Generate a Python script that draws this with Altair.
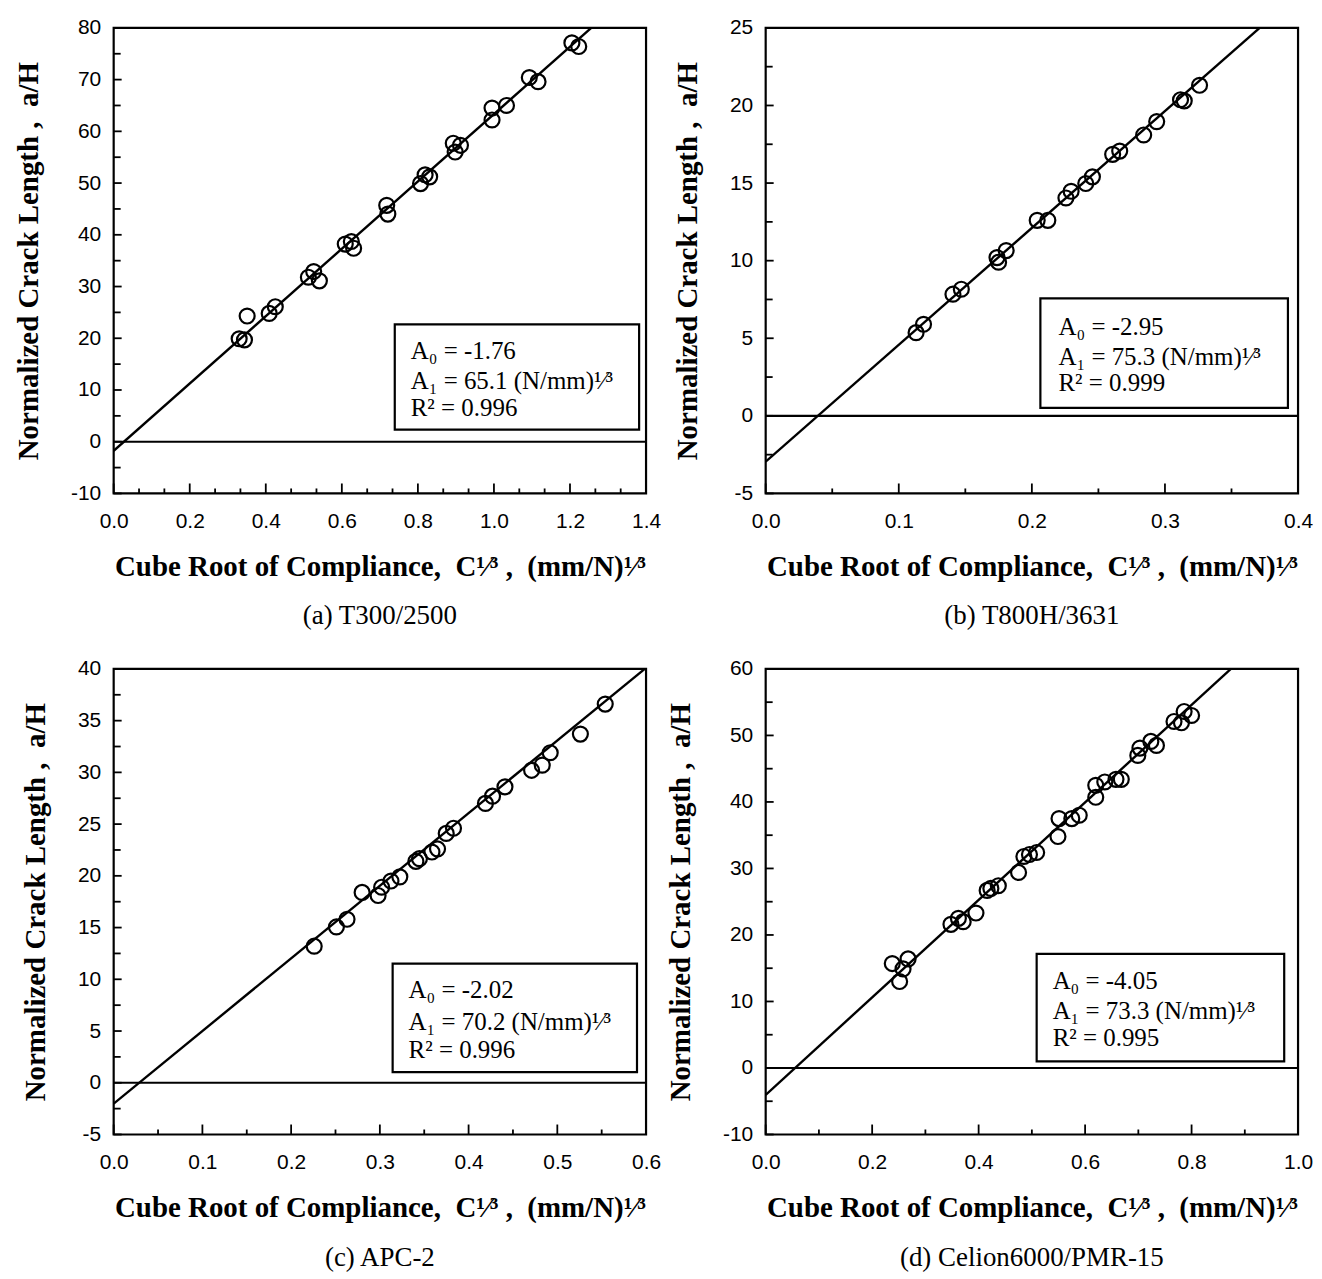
import altair as alt
import pandas as pd

# ---------------- data ----------------
# (a) T300/2500
xa = [0.330, 0.344, 0.351, 0.409, 0.425, 0.512, 0.526, 0.541, 0.609, 0.625, 0.631,
      0.718, 0.721, 0.807, 0.819, 0.831, 0.893, 0.912, 0.898, 0.995, 1.033, 0.995,
      1.093, 1.116, 1.205, 1.223]
ya = [19.9, 19.7, 24.3, 24.8, 26.1, 31.8, 32.9, 31.1, 38.2, 38.7, 37.4,
      45.7, 44.0, 49.9, 51.6, 51.2, 57.7, 57.3, 56.0, 64.5, 65.0, 62.2,
      70.4, 69.6, 77.1, 76.4]
# (b) T800H/3631
xb = [0.113, 0.1186, 0.1407, 0.147, 0.1738, 0.1807, 0.175, 0.204, 0.212, 0.2256,
      0.2295, 0.2405, 0.2455, 0.2607, 0.266, 0.284, 0.2938, 0.3117, 0.3145, 0.326]
yb = [5.36, 5.9, 7.84, 8.16, 10.2, 10.65, 9.9, 12.6, 12.6, 14.04,
      14.47, 14.97, 15.4, 16.85, 17.06, 18.1, 18.96, 20.37, 20.3, 21.3]
# (c) APC-2
xc = [0.226, 0.251, 0.263, 0.280, 0.298, 0.302, 0.3125, 0.3225, 0.3406, 0.3446, 0.3587,
      0.365, 0.3748, 0.383, 0.419, 0.427, 0.441, 0.471, 0.483, 0.492, 0.526, 0.554]
yc = [13.2, 15.06, 15.8, 18.4, 18.1, 18.9, 19.5, 19.9, 21.4, 21.66, 22.3,
      22.6, 24.1, 24.6, 27.0, 27.7, 28.6, 30.2, 30.7, 31.9, 33.7, 36.6]
# (d) Celion6000/PMR-15
xd = [0.2378, 0.2516, 0.258, 0.2675, 0.348, 0.362, 0.371, 0.395, 0.416, 0.423, 0.437,
      0.475, 0.485, 0.4955, 0.509, 0.549, 0.551, 0.575, 0.589, 0.62, 0.62, 0.637,
      0.658, 0.668, 0.699, 0.703, 0.7235, 0.734, 0.767, 0.781, 0.786, 0.80]
yd = [15.7, 13.0, 14.9, 16.4, 21.6, 22.5, 22.0, 23.3, 26.7, 27.0, 27.4,
      29.4, 31.8, 32.1, 32.4, 34.8, 37.5, 37.5, 38.0, 40.7, 42.5, 43.0,
      43.4, 43.4, 47.0, 48.1, 49.1, 48.5, 52.1, 51.9, 53.6, 53.0]

# regression constants printed in each panel
fit_a0 = [-1.76, -2.95, -2.02, -4.05]
fit_a1 = [65.1, 75.3, 70.2, 73.3]
fit_r2 = ["0.996", "0.999", "0.996", "0.995"]
fit_a0_txt = ["-1.76", "-2.95", "-2.02", "-4.05"]
fit_a1_txt = ["65.1", "75.3", "70.2", "73.3"]

subtitles = ["(a) T300/2500", "(b) T800H/3631", "(c) APC-2", "(d) Celion6000/PMR-15"]

# axis domains and ticks
x_domains = [[0, 1.4], [0, 0.4], [0, 0.6], [0, 1.0]]
y_domains = [[-10, 80], [-5, 25], [-5, 40], [-10, 60]]
x_major = [[0, 0.2, 0.4, 0.6, 0.8, 1.0, 1.2, 1.4],
           [0, 0.1, 0.2, 0.3, 0.4],
           [0, 0.1, 0.2, 0.3, 0.4, 0.5, 0.6],
           [0, 0.2, 0.4, 0.6, 0.8, 1.0]]
x_minor = [[0.0667, 0.1333, 0.2667, 0.3333, 0.4667, 0.5333, 0.6667, 0.7333,
            0.8667, 0.9333, 1.0667, 1.1333, 1.2667, 1.3333],
           [0.05, 0.15, 0.25, 0.35],
           [0.05, 0.15, 0.25, 0.35, 0.45, 0.55],
           [0.1, 0.3, 0.5, 0.7, 0.9]]
y_major = [[-10, 0, 10, 20, 30, 40, 50, 60, 70, 80],
           [-5, 0, 5, 10, 15, 20, 25],
           [-5, 0, 5, 10, 15, 20, 25, 30, 35, 40],
           [-10, 0, 10, 20, 30, 40, 50, 60]]
y_minor = [[-5, 5, 15, 25, 35, 45, 55, 65, 75],
           [-2.5, 2.5, 7.5, 12.5, 17.5, 22.5],
           [-2.5, 2.5, 7.5, 12.5, 17.5, 22.5, 27.5, 32.5, 37.5],
           [-5, 5, 15, 25, 35, 45, 55]]

# ---------------- layout / style (not data) ----------------
W, H = 534, 467
# box fractions of plot area: x0, x1, y0, y1, text x, three line centres
boxes = [
    (0.528, 0.987, 0.637, 0.863, 0.558, (0.694, 0.759, 0.817)),
    (0.516, 0.981, 0.581, 0.816, 0.550, (0.643, 0.708, 0.762)),
    (0.524, 0.983, 0.633, 0.866, 0.554, (0.689, 0.758, 0.819)),
    (0.509, 0.974, 0.612, 0.843, 0.539, (0.670, 0.734, 0.792)),
]
SERIF = "Liberation Serif"
SANS = "Liberation Sans"
XTITLE = "Cube Root of Compliance,\u00a0 C\u00b9\u2044\u00b3 ,\u00a0 (mm/N)\u00b9\u2044\u00b3"
YTITLE = "Normalized Crack Length ,\u00a0 a/H"


def panel(i, xs, ys, sub_offset):
    xsc = alt.Scale(domain=x_domains[i], nice=False, zero=False)
    ysc = alt.Scale(domain=y_domains[i], nice=False, zero=False)
    xax = alt.Axis(values=x_major[i], format=".1f", title=XTITLE,
                   labelPadding=17, titlePadding=21, labelFlush=False,
                   labelOverlap=False, labelBound=False)
    yax = alt.Axis(values=y_major[i], title=YTITLE, labelPadding=13,
                   titlePadding=27, labelOverlap=False,
                   labelExpr="datum.value < 0 ? '-' + format(-datum.value, 'd') : format(datum.value, 'd')")
    X = alt.X("x:Q", scale=xsc, axis=xax)
    Y = alt.Y("y:Q", scale=ysc, axis=yax)

    pts = pd.DataFrame({"x": xs, "y": ys})
    a0, a1 = fit_a0[i], fit_a1[i]
    xe = min(x_domains[i][1], (y_domains[i][1] - a0) / a1)
    xl = [x_domains[i][0], xe]
    fitdf = pd.DataFrame({"x": xl, "y": [a0 + a1 * v for v in xl]})

    zero = alt.Chart(pd.DataFrame({"y": [0]})).mark_rule(
        color="black", strokeWidth=2.2).encode(y=Y)
    fit = alt.Chart(fitdf).mark_line(color="black", strokeWidth=2.4, clip=True).encode(x=X, y=Y)
    circ = alt.Chart(pts).mark_point(shape="circle", filled=False, color="black",
                                     size=225, strokeWidth=2.2, opacity=1).encode(x=X, y=Y)
    xt_major = alt.Chart(pd.DataFrame({"x": x_major[i]})).mark_rule(
        color="black", strokeWidth=1.8).encode(x=X, y=alt.value(H), y2=alt.value(H - 10))
    xt_minor = alt.Chart(pd.DataFrame({"x": x_minor[i]})).mark_rule(
        color="black", strokeWidth=1.8).encode(x=X, y=alt.value(H), y2=alt.value(H - 5))
    yt_major = alt.Chart(pd.DataFrame({"y": y_major[i]})).mark_rule(
        color="black", strokeWidth=1.8).encode(y=Y, x=alt.value(0), x2=alt.value(8))
    yt_minor = alt.Chart(pd.DataFrame({"y": y_minor[i]})).mark_rule(
        color="black", strokeWidth=1.8).encode(y=Y, x=alt.value(0), x2=alt.value(7))

    bx0, bx1, by0, by1, tx, lines = boxes[i]
    box = alt.Chart(pd.DataFrame({"k": [0]})).mark_rect(
        fill="white", stroke="black", strokeWidth=2.2).encode(
        x=alt.value(bx0 * W), x2=alt.value(bx1 * W),
        y=alt.value(by0 * H), y2=alt.value(by1 * H))
    texts = [
        "A\u2080 = " + fit_a0_txt[i],
        "A\u2081 = " + fit_a1_txt[i] + " (N/mm)\u00b9\u2044\u00b3",
        "R\u00b2 = " + fit_r2[i],
    ]
    tlayers = []
    for t, ly in zip(texts, lines):
        tlayers.append(
            alt.Chart(pd.DataFrame({"t": [t]})).mark_text(
                align="left", baseline="middle", font=SERIF, fontSize=25,
                color="black").encode(x=alt.value(tx * W), y=alt.value(ly * H), text="t:N"))

    return alt.layer(zero, fit, circ, xt_major, xt_minor, yt_major, yt_minor, box,
                     *tlayers).properties(
        width=W, height=H,
        title=alt.TitleParams(subtitles[i], orient="bottom", anchor="middle",
                              frame="group", offset=sub_offset, font=SERIF, fontSize=27,
                              fontWeight="normal", color="black"))


pa = panel(0, xa, ya, 22)
pb = panel(1, xb, yb, 22)
pc = panel(2, xc, yc, 23)
pd_ = panel(3, xd, yd, 23)

chart = alt.concat(pa, pb, pc, pd_, columns=2, bounds="flush",
                   spacing={"row": 176, "column": 120}).properties(
    padding={"left": 5, "top": 5, "right": 0, "bottom": 0},
    background="white"
).configure_view(
    stroke="black", strokeWidth=2.2
).configure_axis(
    grid=False, ticks=False, domain=False,
    labelFont=SANS, labelFontSize=21, labelColor="black",
    titleFont=SERIF, titleFontSize=29, titleFontWeight="bold", titleColor="black"
)

chart.save("out.html", embed_options={"renderer": "svg", "actions": False})
